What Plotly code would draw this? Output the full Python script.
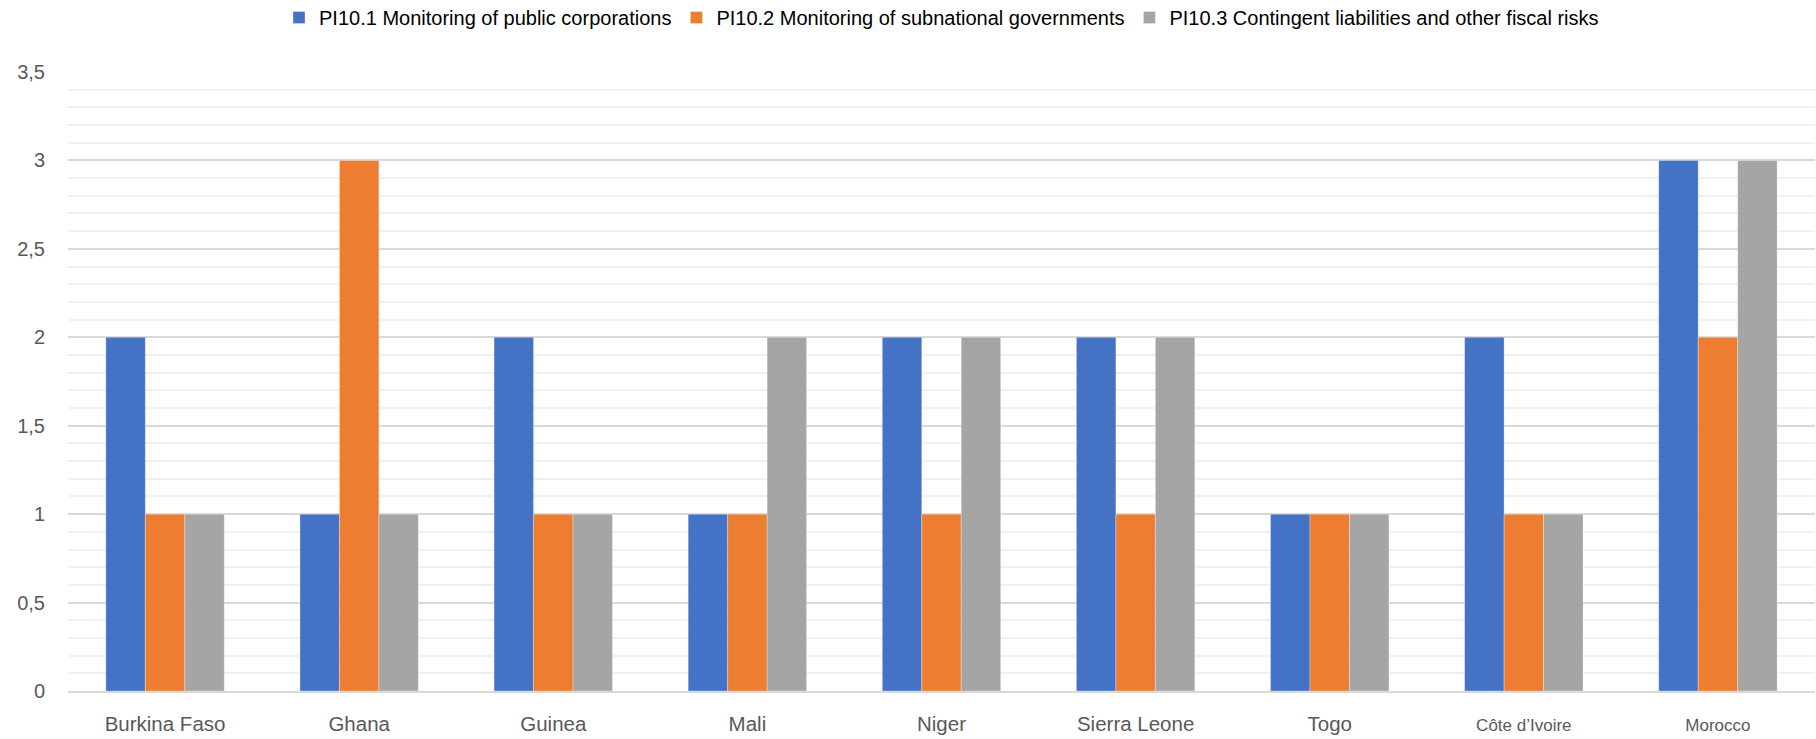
import plotly.graph_objects as go

countries = ["Burkina Faso", "Ghana", "Guinea", "Mali", "Niger", "Sierra Leone", "Togo",
             "Côte d’Ivoire", "Morocco"]
tick_labels = ["Burkina Faso", "Ghana", "Guinea", "Mali", "Niger", "Sierra Leone", "Togo",
               "<span style='font-size:17px'>Côte d’Ivoire</span>",
               "<span style='font-size:17px'>Morocco</span>"]
pi101 = [2, 1, 2, 1, 2, 2, 1, 2, 3]
pi102 = [1, 3, 1, 1, 1, 1, 1, 1, 2]
pi103 = [1, 1, 1, 2, 2, 2, 1, 1, 3]
names = ["PI10.1 Monitoring of public corporations",
         "PI10.2 Monitoring of subnational governments",
         "PI10.3 Contingent liabilities and other fiscal risks"]
colors = ["#4472C4", "#ED7D31", "#A5A5A5"]

fig = go.Figure()
for vals, name, col in zip([pi101, pi102, pi103], names, colors):
    fig.add_trace(go.Bar(x=countries, y=vals, name=name,
                         marker=dict(color=col, line=dict(color="rgba(255,255,255,0.6)", width=0.5))))

fig.update_layout(
    width=1816, height=739,
    margin=dict(l=68, r=1, t=72, b=48, autoexpand=False),
    plot_bgcolor="white", paper_bgcolor="white",
    barmode="group", bargap=0.39, bargroupgap=0,
    separators=", ",
    font=dict(family="Liberation Sans, Arial, sans-serif", color="#595959"),
    legend=dict(orientation="h", x=0.5, xanchor="center", y=1.088, yanchor="middle",
                font=dict(size=20, color="#000000"), itemwidth=30,
                traceorder="normal"),
    showlegend=True,
)
fig.update_xaxes(
    tickmode="array", tickvals=countries, ticktext=tick_labels,
    tickfont=dict(size=20.5, color="#595959"),
    showgrid=False, showline=True, linecolor="#d9d9d9", linewidth=2,
    ticks="", ticklabelstandoff=13,
)
fig.update_yaxes(
    range=[0, 3.5], dtick=0.5, tick0=0,
    showgrid=True, gridcolor="#d9d9d9", gridwidth=1.5,
    minor=dict(dtick=0.1, showgrid=True, gridcolor="#f0f0f0", gridwidth=1.5),
    zeroline=False, showline=False,
    tickfont=dict(size=20, color="#595959"), ticks="", ticklabelstandoff=22,
)
fig.write_html("out.html")
